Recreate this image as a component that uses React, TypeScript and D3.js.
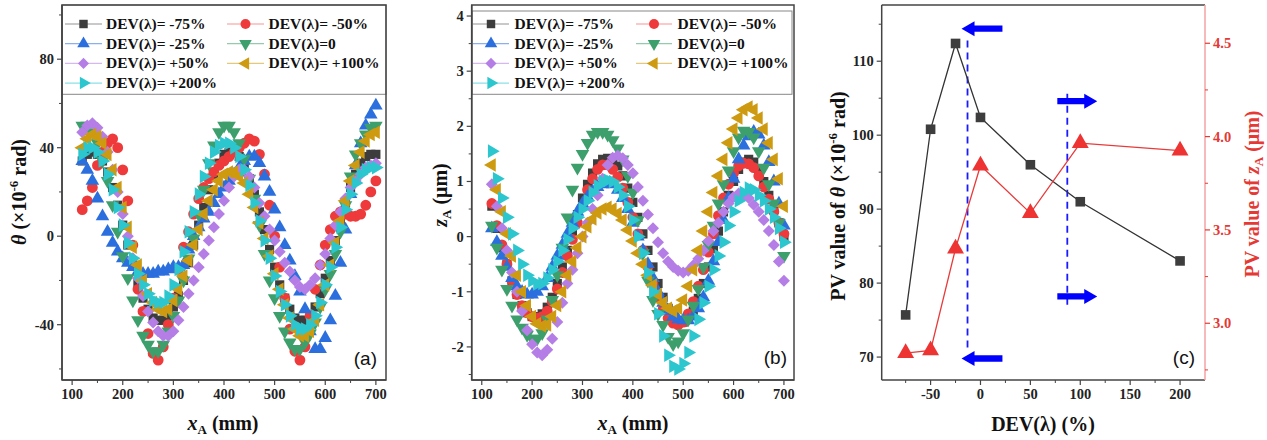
import React from 'react';
import * as d3 from 'd3';

// sampling positions along the guide (mm)
const xA = [120, 130, 140, 150, 160, 170, 180, 190, 200, 210, 220, 230, 240, 250, 260, 270, 280, 290, 300, 310,
  320, 330, 340, 350, 360, 370, 380, 390, 400, 410, 420, 430, 440, 450, 460, 470, 480, 490, 500, 510,
  520, 530, 540, 550, 560, 570, 580, 590, 600, 610, 620, 630, 640, 650, 660, 670, 680, 690, 700];

// (a) theta, x1e-6 rad
const thetaM75 = [34, 37, 38, 37, 34, 29, 22, 14, 5, -4, -13, -21, -28, -33, -37, -38, -38, -36, -32, -27,
  -20, -12, -4, 5, 13, 21, 28, 33, 37, 38, 38, 36, 32, 26, 19, 11, 3, -6, -14, -22,
  -28, -33, -37, -38, -38, -36, -32, -26, -19, -11, -2, 7, 15, 22, 28, 33, 36, 37, 37];
const thetaM50 = [12, 16, 22, 32, 38, 42, 44, 40, 30, 16, -4, -24, -34, -44, -53, -56, -50, -40, -28, -15,
  -5, 2, 10, 17, 22, 26, 29, 32, 34, 36, 38, 40, 42, 44, 43, 37, 28, 14, 0, -14,
  -28, -42, -52, -56, -50, -36, -24, -13, -4, 3, 9, 11, 10, 9, 9, 10, 14, 20, 25];
const thetaM25 = [34, 30, 25, 17, 9, 2, -3, -7, -10, -12, -14, -16, -17, -17, -17, -16, -16, -15, -14, -14,
  -13, -6, 0, 4, 8, 11, 15, 19, 22, 25, 28, 31, 34, 36, 36, 33, 27, 20, 12, 4,
  -4, -11, -18, -25, -33, -43, -51, -51, -46, -38, -27, -12, 3, 19, 32, 42, 50, 55, 59];
const theta0 = [50, 50, 47, 42, 34, 25, 14, 2, -9, -19, -29, -38, -45, -49, -52, -52, -49, -43, -36, -29,
  -20, -10, -1, 10, 21, 33, 41, 47, 50, 50, 47, 42, 35, 26, 17, 5, -8, -20, -28, -36,
  -43, -48, -51, -51, -48, -44, -39, -32, -24, -17, -8, 2, 14, 27, 37, 42, 46, 49, 50];
const thetaP50 = [47, 50, 51, 49, 45, 38, 30, 20, 10, 0, -10, -19, -27, -34, -39, -43, -45, -45, -43, -38,
  -32, -26, -20, -14, -8, -2, 4, 10, 16, 22, 27, 30, 30, 27, 22, 15, 9, 3, -2, -7,
  -12, -16, -20, -23, -24, -22, -19, -13, -8, -1, 5, 11, 17, 22, 25, 28, 31, 32, 33];
const thetaP100 = [40, 44, 46, 45, 42, 37, 30, 22, 13, 4, -5, -13, -20, -26, -30, -33, -34, -33, -29, -24,
  -18, -11, -4, 3, 10, 16, 21, 25, 28, 29, 29, 27, 24, 19, 13, 6, -1, -9, -17, -24,
  -31, -37, -42, -45, -45, -43, -38, -31, -22, -13, -3, 7, 16, 25, 32, 38, 43, 46, 47];
const thetaP200 = [37, 40, 40, 38, 34, 28, 21, 13, 5, -3, -10, -17, -22, -26, -29, -30, -30, -27, -22, -15,
  -7, 2, 11, 19, 27, 33, 38, 41, 42, 42, 40, 36, 30, 23, 15, 7, -2, -10, -18, -25,
  -31, -36, -40, -42, -42, -40, -36, -30, -22, -14, -5, 4, 12, 19, 24, 28, 30, 31, 31];

// (b) zA, um
const zM75 = [0.55, 0.15, -0.2, -0.5, -0.8, -1.05, -1.25, -1.38, -1.45, -1.45, -1.4, -1.28, -1.1, -0.85, -0.55, -0.25, 0.1, 0.4, 0.7, 0.95,
  1.15, 1.32, 1.4, 1.42, 1.38, 1.28, 1.1, 0.88, 0.62, 0.35, 0.05, -0.25, -0.55, -0.85, -1.1, -1.3, -1.45, -1.52, -1.55, -1.5,
  -1.35, -1.12, -0.85, -0.55, -0.22, 0.1, 0.45, 0.75, 1.0, 1.22, 1.35, 1.4, 1.35, 1.2, 1.0, 0.75, 0.5, 0.25, 0.0];
const zM50 = [0.6, 0.2, -0.15, -0.5, -0.8, -1.05, -1.25, -1.38, -1.45, -1.48, -1.45, -1.35, -1.18, -0.95, -0.65, -0.35, -0.05, 0.25, 0.55, 0.85,
  1.05, 1.22, 1.3, 1.3, 1.22, 1.08, 0.88, 0.62, 0.35, 0.05, -0.25, -0.55, -0.85, -1.1, -1.32, -1.48, -1.57, -1.6, -1.55, -1.4,
  -1.18, -0.9, -0.6, -0.28, 0.05, 0.38, 0.7, 0.95, 1.15, 1.28, 1.33, 1.32, 1.25, 1.1, 0.9, 0.68, 0.45, 0.25, 0.05];
const zM25 = [0.15, -0.1, -0.35, -0.55, -0.75, -0.9, -1.0, -1.05, -1.05, -1.0, -0.9, -0.75, -0.55, -0.35, -0.15, 0.05, 0.25, 0.45, 0.6, 0.72,
  0.82, 0.9, 0.95, 0.97, 0.95, 0.85, 0.7, 0.5, 0.25, 0.0, -0.25, -0.5, -0.75, -1.0, -1.2, -1.35, -1.45, -1.5, -1.52, -1.52,
  -1.45, -1.3, -1.1, -0.8, -0.45, -0.1, 0.3, 0.7, 1.05, 1.4, 1.65, 1.82, 1.9, 1.85, 1.65, 1.35, 1.0, 0.6, 0.2];
const z0 = [0.2, -0.2, -0.6, -0.95, -1.25, -1.5, -1.65, -1.78, -1.85, -1.85, -1.75, -1.5, -1.15, -0.7, -0.2, 0.35, 0.85, 1.25, 1.5, 1.7,
  1.85, 1.9, 1.9, 1.85, 1.75, 1.6, 1.4, 1.1, 0.8, 0.3, -0.3, -0.8, -1.15, -1.4, -1.6, -1.82, -1.95, -1.9, -1.75, -1.5,
  -1.25, -0.95, -0.55, -0.15, 0.2, 0.6, 0.95, 1.2, 1.55, 1.8, 1.92, 1.9, 1.8, 1.55, 1.25, 0.95, 0.6, 0.25, -0.35];
const zP50 = [0.95, 0.55, 0.15, -0.25, -0.65, -1.0, -1.35, -1.7, -1.95, -2.1, -2.15, -2.05, -1.85, -1.55, -1.2, -0.85, -0.6, -0.3, 0.0, 0.25,
  0.5, 0.75, 1.05, 1.3, 1.43, 1.47, 1.42, 1.3, 1.15, 0.9, 0.65, 0.4, 0.15, -0.1, -0.3, -0.45, -0.55, -0.62, -0.65, -0.62,
  -0.52, -0.4, -0.25, -0.08, 0.1, 0.25, 0.45, 0.6, 0.72, 0.78, 0.75, 0.7, 0.58, 0.45, 0.3, 0.1, -0.15, -0.45, -0.8];
const zP100 = [1.3, 0.85, 0.45, 0.05, -0.35, -0.7, -1.0, -1.25, -1.45, -1.58, -1.62, -1.6, -1.45, -1.25, -1.0, -0.7, -0.45, -0.2, 0.0, 0.18,
  0.32, 0.43, 0.5, 0.53, 0.5, 0.42, 0.3, 0.12, -0.08, -0.3, -0.5, -0.7, -0.88, -1.05, -1.2, -1.3, -1.35, -1.3, -1.15, -0.9,
  -0.6, -0.25, 0.1, 0.45, 0.8, 1.1, 1.4, 1.7, 1.95, 2.15, 2.3, 2.35, 2.3, 2.15, 1.95, 1.7, 1.4, 1.05, 0.55];
const zP200 = [1.55, 1.05, 0.7, 0.35, 0.05, -0.25, -0.5, -0.7, -0.8, -0.86, -0.85, -0.75, -0.6, -0.45, -0.25, -0.05, 0.15, 0.35, 0.5, 0.65,
  0.8, 0.92, 1.0, 1.02, 1.0, 0.9, 0.75, 0.55, 0.3, 0.0, -0.3, -0.65, -1.0, -1.4, -1.8, -2.15, -2.35, -2.4, -2.3, -2.1,
  -1.8, -1.5, -1.2, -0.9, -0.6, -0.35, -0.1, 0.2, 0.45, 0.65, 0.8, 0.88, 0.85, 0.75, 0.65, 0.5, 0.35, 0.15, -0.1];

const legendNames = ['DEV(λ)= -75%', 'DEV(λ)= -50%', 'DEV(λ)= -25%', 'DEV(λ)=0', 'DEV(λ)= +50%', 'DEV(λ)= +100%', 'DEV(λ)= +200%'];
const seriesColors = ['#3d3d3d', '#ee3a3a', '#2b6fde', '#3d9f6c', '#b47ee6', '#cd9a10', '#2cc6cf'];
const seriesShapes = ['square', 'circle', 'up', 'down', 'diamond', 'left', 'right'];

// (c) PV values
const devX = [-75, -50, -25, 0, 50, 100, 200];
const pvTheta = [75.7, 100.8, 112.4, 102.4, 96.0, 91.0, 83.0];
const pvZ = [2.84, 2.855, 3.4, 3.845, 3.59, 3.965, 3.925];

// blue arrows / dashed guides in (c), in data units
const arrowTail = [22, 22, 77, 77];
const arrowTip = [-19, -19, 117, 117];
const arrowY = [114.4, 69.8, 104.6, 78.2];
const guideX = [-13, 87];
const guideTop = [112.8, 105.6];
const guideBottom = [70.8, 76.8];

const xTicksAB = [100, 200, 300, 400, 500, 600, 700];
const xMinorAB = [150, 250, 350, 450, 550, 650];
const yTicksA = [-40, 0, 40, 80];
const yMinorA = [-60, -20, 20, 60, 100];
const yTicksB = [-2, -1, 0, 1, 2, 3, 4];
const yMinorB = [-2.5, -1.5, -0.5, 0.5, 1.5, 2.5, 3.5];
const xTicksC = [-50, 0, 50, 100, 150, 200];
const xMinorC = [-75, -25, 25, 75, 125, 175];
const yTicksCL = [70, 80, 90, 100, 110];
const yMinorCL = [75, 85, 95, 105, 115];
const yTicksCR = [3.0, 3.5, 4.0, 4.5];
const yMinorCR = [2.75, 3.25, 3.75, 4.25];

const SERIF = '"Liberation Serif", "Times New Roman", serif';
const SANS = '"Liberation Sans", Arial, sans-serif';
const AX = '#444';

const symType: any = { square: d3.symbolSquare, circle: d3.symbolCircle, diamond: d3.symbolSquare };
const symRot: any = { square: 0, circle: 0, up: 0, down: 180, diamond: 45, left: -90, right: 90 };
const symSize: any = { square: 84, circle: 92, up: 80, down: 80, diamond: 72, left: 80, right: 80 };

function symPath(shape: string, size: number) {
  return d3.symbol().type(symType[shape] || d3.symbolTriangle).size(size)() as string;
}

function Marker({ shape, x, y, color, scale = 1 }: any) {
  return <path d={symPath(shape, symSize[shape] * scale)} transform={`translate(${x},${y}) rotate(${symRot[shape]})`} fill={color} />;
}

function BottomAxis({ scale, y, major, minor, fmt = (d: number) => String(d) }: any) {
  const [r0, r1] = scale.range();
  return (
    <g>
      <line x1={r0} x2={r1} y1={y} y2={y} stroke={AX} strokeWidth={1.5} />
      {major.map((t: number) => (
        <g key={'M' + t}>
          <line x1={scale(t)} x2={scale(t)} y1={y} y2={y + 5} stroke={AX} strokeWidth={1.2} />
          <text x={scale(t)} y={y + 19} textAnchor="middle" fontFamily={SERIF} fontWeight="bold" fontSize={14.5} fill="#222">{fmt(t)}</text>
        </g>
      ))}
      {minor.map((t: number) => (
        <line key={'m' + t} x1={scale(t)} x2={scale(t)} y1={y} y2={y + 3} stroke={AX} strokeWidth={1} />
      ))}
    </g>
  );
}

function SideAxis({ scale, x, major, minor, side = 'left', color = AX, lineColor = AX, fmt = (d: number) => String(d) }: any) {
  const [r0, r1] = scale.range();
  const dir = side === 'left' ? -1 : 1;
  return (
    <g>
      <line x1={x} x2={x} y1={r0} y2={r1} stroke={lineColor} strokeWidth={1.5} />
      {major.map((t: number) => (
        <g key={'M' + t}>
          <line x1={x} x2={x + dir * 5} y1={scale(t)} y2={scale(t)} stroke={color} strokeWidth={1.2} />
          <text x={x + dir * 8} y={scale(t) + 5} textAnchor={side === 'left' ? 'end' : 'start'} fontFamily={SERIF} fontWeight="bold" fontSize={14.5} fill={color === AX ? '#222' : color}>{fmt(t)}</text>
        </g>
      ))}
      {minor.map((t: number) => (
        <line key={'m' + t} x1={x} x2={x + dir * 3} y1={scale(t)} y2={scale(t)} stroke={color} strokeWidth={1} />
      ))}
    </g>
  );
}

function Legend({ box, col1, col2, rows }: any) {
  const cols = [col1, col2];
  return (
    <g>
      <rect x={box[0]} y={box[1]} width={box[2] - box[0]} height={box[3] - box[1]} fill="white" stroke="#888" strokeWidth={1} />
      {legendNames.map((name, i) => {
        const c = cols[i % 2];
        const cy = rows[Math.floor(i / 2)];
        return (
          <g key={name}>
            <line x1={c[0]} x2={c[1]} y1={cy} y2={cy} stroke={seriesColors[i]} strokeOpacity={0.55} strokeWidth={1.2} />
            <Marker shape={seriesShapes[i]} x={(c[0] + c[1]) / 2} y={cy} color={seriesColors[i]} scale={0.85} />
            <text x={c[2]} y={cy + 5} fontFamily={SERIF} fontWeight="bold" fontSize={15.5} fill="#111">{name}</text>
          </g>
        );
      })}
    </g>
  );
}

function ScatterPanel({ xs, ys, series, clipId }: any) {
  return (
    <g clipPath={`url(#${clipId})`}>
      {series.map((vals: number[], si: number) => (
        <g key={si}>
          {vals.map((v, i) => (
            <Marker key={i} shape={seriesShapes[si]} x={xs(xA[i])} y={ys(v)} color={seriesColors[si]} />
          ))}
        </g>
      ))}
    </g>
  );
}

function XTitle({ x, y }: any) {
  return (
    <text x={x} y={y} textAnchor="middle" fontFamily={SERIF} fontWeight="bold" fontSize={20} fill="#111">
      <tspan fontStyle="italic">x</tspan>
      <tspan dy={4} fontSize={13}>A</tspan>
      <tspan dy={-4}> (mm)</tspan>
    </text>
  );
}

export default function App() {
  const A = { x0: 62, x1: 386, y0: 5, y1: 380 };
  const B = { x0: 471.7, x1: 794, y0: 5, y1: 380 };
  const C = { x0: 881.7, x1: 1205, y0: 5, y1: 380 };

  const xa = d3.scaleLinear().domain([80, 720]).range([A.x0, A.x1]);
  const ya = d3.scaleLinear().domain([-65, 104.5]).range([A.y1, A.y0]);
  const xb = d3.scaleLinear().domain([80, 720]).range([B.x0, B.x1]);
  const yb = d3.scaleLinear().domain([-2.6, 4.2]).range([B.y1, B.y0]);
  const xc = d3.scaleLinear().domain([-99, 225]).range([C.x0, C.x1]);
  const ycl = d3.scaleLinear().domain([66.9, 117.6]).range([C.y1, C.y0]);
  const ycr = d3.scaleLinear().domain([2.696, 4.705]).range([C.y1, C.y0]);

  const thetaSeries = [thetaM75, thetaM50, thetaM25, theta0, thetaP50, thetaP100, thetaP200];
  const zSeries = [zM75, zM50, zM25, z0, zP50, zP100, zP200];

  const lineTheta = d3.line<number>().x((_, i) => xc(devX[i])).y(d => ycl(d));
  const lineZ = d3.line<number>().x((_, i) => xc(devX[i])).y(d => ycr(d));

  const arrowPath = (tail: number, tip: number, yv: number) => {
    const xt = xc(tip), xs = xc(tail), y = ycl(yv);
    const d = xt < xs ? 1 : -1;
    const hx = xt + d * 13;
    return `M${xt},${y} L${hx},${y - 7.5} L${hx},${y - 3.2} L${xs},${y - 3.2} L${xs},${y + 3.2} L${hx},${y + 3.2} L${hx},${y + 7.5} Z`;
  };

  const rowsY = [24, 43.7, 63.4, 83.1];

  return (
    <svg width={1267} height={440} style={{ position: 'absolute', left: 0, top: 0, background: 'white' }}>
      <defs>
        <clipPath id="clipA"><rect x={A.x0} y={A.y0} width={A.x1 - A.x0} height={A.y1 - A.y0} /></clipPath>
        <clipPath id="clipB"><rect x={B.x0} y={B.y0} width={B.x1 - B.x0} height={B.y1 - B.y0} /></clipPath>
      </defs>
      <rect x={0} y={0} width={1267} height={440} fill="white" />

      {/* panel (a) */}
      <ScatterPanel xs={xa} ys={ya} series={thetaSeries} clipId="clipA" />
      <Legend box={[A.x0, A.y0, A.x1, 94.3]} col1={[65, 102, 106]} col2={[227, 264, 268.5]} rows={rowsY} />
      <rect x={A.x0} y={A.y0} width={A.x1 - A.x0} height={A.y1 - A.y0} fill="none" stroke={AX} strokeWidth={1.5} />
      <BottomAxis scale={xa} y={A.y1} major={xTicksAB} minor={xMinorAB} />
      <SideAxis scale={ya} x={A.x0} major={yTicksA} minor={yMinorA} />
      <text x={377} y={365} textAnchor="end" fontFamily={SANS} fontSize={19} fill="#111">(a)</text>
      <XTitle x={223} y={430} />
      <text transform="translate(26,192) rotate(-90)" textAnchor="middle" fontFamily={SERIF} fontWeight="bold" fontSize={20} fill="#111">
        <tspan fontStyle="italic">θ</tspan>
        <tspan> (×10</tspan>
        <tspan dy={-8} fontSize={13}>-6</tspan>
        <tspan dy={8}> rad)</tspan>
      </text>

      {/* panel (b) */}
      <ScatterPanel xs={xb} ys={yb} series={zSeries} clipId="clipB" />
      <Legend box={[472, 11, 792, 94.3]} col1={[473, 509, 514.5]} col2={[636, 672, 677.5]} rows={rowsY} />
      <rect x={B.x0} y={B.y0} width={B.x1 - B.x0} height={B.y1 - B.y0} fill="none" stroke={AX} strokeWidth={1.5} />
      <BottomAxis scale={xb} y={B.y1} major={xTicksAB} minor={xMinorAB} />
      <SideAxis scale={yb} x={B.x0} major={yTicksB} minor={yMinorB} />
      <text x={787} y={364} textAnchor="end" fontFamily={SANS} fontSize={19} fill="#111">(b)</text>
      <XTitle x={633} y={430} />
      <text transform="translate(447,195) rotate(-90)" textAnchor="middle" fontFamily={SERIF} fontWeight="bold" fontSize={20} fill="#111">
        <tspan fontStyle="italic">z</tspan>
        <tspan dy={4} fontSize={13}>A</tspan>
        <tspan dy={-4}> (μm)</tspan>
      </text>

      {/* panel (c) */}
      <line x1={C.x0} x2={C.x1} y1={C.y0} y2={C.y0} stroke={AX} strokeWidth={1.5} />
      {guideX.map((g, i) => (
        <line key={'g' + i} x1={xc(g)} x2={xc(g)} y1={ycl(guideTop[i])} y2={ycl(guideBottom[i])} stroke="#1a1aff" strokeWidth={1.8} strokeDasharray="7,5" />
      ))}
      {arrowTail.map((t, i) => (
        <path key={'a' + i} d={arrowPath(t, arrowTip[i], arrowY[i])} fill="#0000ff" />
      ))}
      <path d={lineTheta(pvTheta) as string} fill="none" stroke="#333" strokeWidth={1.3} />
      <path d={lineZ(pvZ) as string} fill="none" stroke="#e83a3a" strokeWidth={1.3} />
      {pvTheta.map((v, i) => (
        <Marker key={'s' + i} shape="square" x={xc(devX[i])} y={ycl(v)} color="#3d3d3d" scale={1.1} />
      ))}
      {pvZ.map((v, i) => (
        <Marker key={'t' + i} shape="up" x={xc(devX[i])} y={ycr(v)} color="#ee3333" scale={1.55} />
      ))}
      <BottomAxis scale={xc} y={C.y1} major={xTicksC} minor={xMinorC} />
      <SideAxis scale={ycl} x={C.x0} major={yTicksCL} minor={yMinorCL} />
      <SideAxis scale={ycr} x={C.x1} major={yTicksCR} minor={yMinorCR} side="right" color="#e53935" lineColor="#f3a3a3" fmt={(d: number) => d.toFixed(1)} />
      <text x={1195} y={364} textAnchor="end" fontFamily={SANS} fontSize={19} fill="#111">(c)</text>
      <text x={1043} y={431} textAnchor="middle" fontFamily={SERIF} fontWeight="bold" fontSize={20} fill="#111">DEV(λ) (%)</text>
      <text transform="translate(845,196) rotate(-90)" textAnchor="middle" fontFamily={SERIF} fontWeight="bold" fontSize={20} fill="#111">
        <tspan>PV value of </tspan>
        <tspan fontStyle="italic">θ</tspan>
        <tspan> (×10</tspan>
        <tspan dy={-8} fontSize={13}>-6</tspan>
        <tspan dy={8}> rad)</tspan>
      </text>
      <text transform="translate(1259,194) rotate(-90)" textAnchor="middle" fontFamily={SERIF} fontWeight="bold" fontSize={20} fill="#e53935">
        <tspan>PV value of </tspan>
        <tspan fontStyle="italic">z</tspan>
        <tspan dy={4} fontSize={13}>A</tspan>
        <tspan dy={-4}> (μm)</tspan>
      </text>
    </svg>
  );
}
